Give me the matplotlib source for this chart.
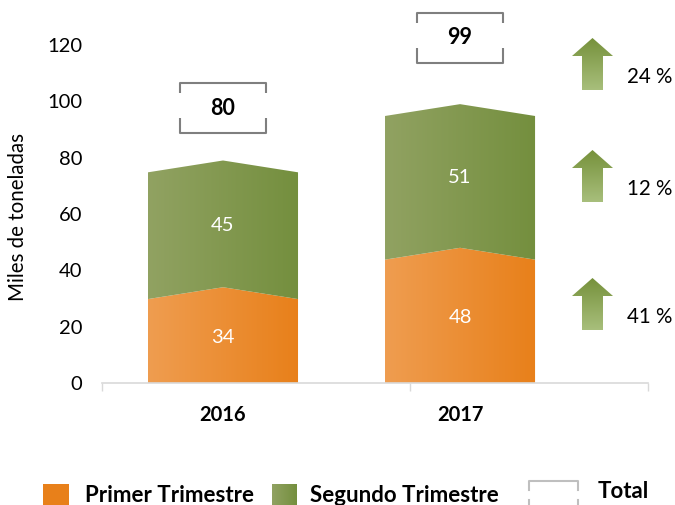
import matplotlib
matplotlib.use("Agg")
import matplotlib.pyplot as plt
import numpy as np
from matplotlib.patches import Polygon, Rectangle
from matplotlib.colors import LinearSegmentedColormap

# datos
years = ['2016', '2017']
primer = [34, 48]
segundo = [45, 51]
totales = [80, 99]
var_labels = ['24 %', '12 %', '41 %']
serie_names = ['Primer Trimestre', 'Segundo Trimestre', 'Total']

plt.rcParams['font.family'] = ['Lato', 'DejaVu Sans']

W, H = 675, 505
fig = plt.figure(figsize=(W / 100, H / 100), dpi=100)
ax = fig.add_axes([102 / W, 122 / H, 546 / W, 338 / H])

ORANGE = ('#EF9D50', '#E8801A')
GREEN = ('#91A262', '#748F3E')
GRAY = '#7F7F7F'

bar_w = 0.633
peak = 4.2
box_w = 0.359
box_h = 17.8
box_gap = [9.7, 14.6]


def grad_fill(axis, pts, colors, vertical=False, zorder=2):
    poly = Polygon(pts, closed=True, facecolor='none', edgecolor='none')
    axis.add_patch(poly)
    xs = [p[0] for p in pts]
    ys = [p[1] for p in pts]
    cmap = LinearSegmentedColormap.from_list('g', list(colors))
    if vertical:
        arr = np.linspace(0, 1, 256).reshape(-1, 1)
    else:
        arr = np.linspace(0, 1, 256).reshape(1, -1)
    img = axis.imshow(arr, cmap=cmap, aspect='auto', interpolation='bilinear',
                      extent=(min(xs), max(xs), max(ys), min(ys)) if vertical
                      else (min(xs), max(xs), min(ys), max(ys)),
                      origin='upper', zorder=zorder)
    img.set_clip_path(poly)


for i, yr in enumerate(years):
    x0, x1 = i - bar_w / 2, i + bar_w / 2
    t1 = primer[i]
    t2 = primer[i] + segundo[i]
    low = [(x0, 0), (x1, 0), (x1, t1 - peak), (i, t1), (x0, t1 - peak)]
    grad_fill(ax, low, ORANGE)
    up = [(x0, t1 - peak), (i, t1), (x1, t1 - peak), (x1, t2 - peak), (i, t2), (x0, t2 - peak)]
    grad_fill(ax, up, GREEN)
    ax.text(i, primer[i] / 2 - 0.7, str(primer[i]), color='white', fontsize=14.5,
            ha='center', va='center', zorder=4)
    ax.text(i, t1 + segundo[i] / 2 - 0.7, str(segundo[i]), color='white', fontsize=14.5,
            ha='center', va='center', zorder=4)

    # caja del total
    yb = t2 + box_gap[i]
    yt = yb + box_h
    bx0, bx1 = i - box_w / 2, i + box_w / 2
    kw = dict(color=GRAY, lw=1.5, clip_on=False, solid_capstyle='butt')
    ax.plot([bx0, bx0, bx1, bx1], [yt - 3.5, yt, yt, yt - 3.5], **kw)
    ax.plot([bx0, bx0, bx1, bx1], [yb + 5.3, yb, yb, yb + 5.3], **kw)
    ax.text(i, (yb + yt) / 2, str(totales[i]), fontsize=15.5, fontweight='bold',
            ha='center', va='center', clip_on=False)

ax.set_xlim(-0.5105, 1.793)
ax.set_ylim(0, 120)
ax.set_yticks(range(0, 121, 20))
ax.set_xticks(range(len(years)))
ax.set_xticklabels(years, fontsize=14.5, fontweight='bold')
ax.set_xticks([-0.5105, 0.789, 1.793], minor=True)
ax.tick_params(axis='x', which='major', length=0, pad=16)
ax.tick_params(axis='x', which='minor', length=6, color='#D9D9D9', width=1)
ax.tick_params(axis='y', length=0, labelsize=14.5, pad=14)
for s in ['top', 'right', 'left']:
    ax.spines[s].set_visible(False)
ax.spines['bottom'].set_color('#D9D9D9')
ax.spines['bottom'].set_linewidth(1.2)
ax.set_facecolor('none')

fig.text(18 / W, 1 - 217 / H, 'Miles de toneladas', rotation=90, fontsize=14.8,
         ha='center', va='center')

# capa superior en pixeles para flechas y leyenda
ov = fig.add_axes([0, 0, 1, 1], zorder=5)
ov.patch.set_alpha(0)
ov.axis('off')

arrow_tops = [38, 150, 278]
ARROW = ('#76913B', '#A8BF7C')
for top, lab in zip(arrow_tops, var_labels):
    pts = [(592.5, top), (613, top + 18), (603, top + 18), (603, top + 52),
           (582, top + 52), (582, top + 18), (572, top + 18)]
    grad_fill(ov, pts, ARROW, vertical=True)
    ov.text(627, top + 39, lab, fontsize=14.8, ha='left', va='center')

# leyenda
ov.add_patch(Rectangle((43, 484), 26, 22, facecolor=ORANGE[1], edgecolor='none'))
ov.text(85, 495, serie_names[0], fontsize=16, fontweight='bold', ha='left', va='center')
grad_fill(ov, [(272, 484), (297, 484), (297, 506), (272, 506)], GREEN)
ov.text(310, 495, serie_names[1], fontsize=16, fontweight='bold', ha='left', va='center')
ov.plot([529, 529, 578, 578], [490, 481, 481, 490], color='#BFBFBF', lw=1.5)
ov.plot([529, 529], [500, 506], color='#BFBFBF', lw=1.5)
ov.plot([578, 578], [500, 506], color='#BFBFBF', lw=1.5)
ov.text(598, 491, serie_names[2], fontsize=16, fontweight='bold', ha='left', va='center')

ov.set_xlim(0, W)
ov.set_ylim(H, 0)

fig.savefig('out.png', dpi=100)
